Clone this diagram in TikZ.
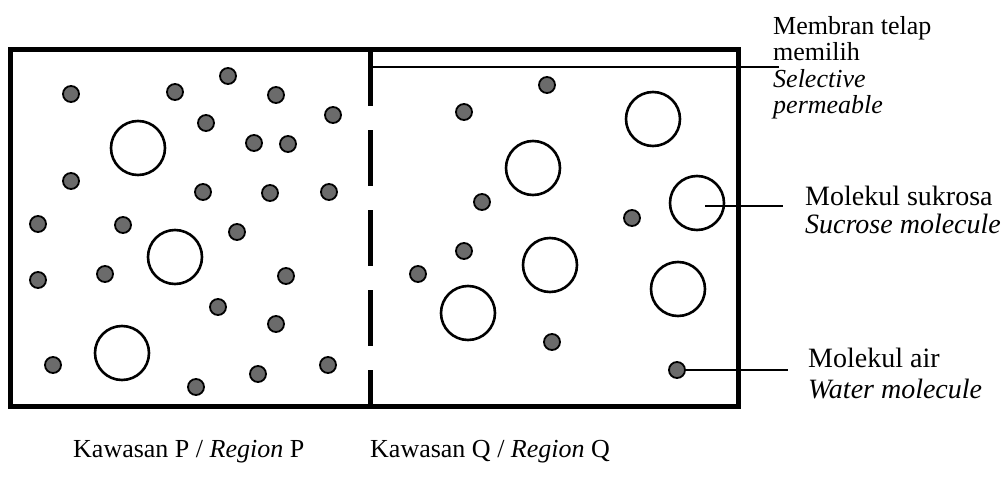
\documentclass[tikz,border=0pt]{standalone}
\usepackage{fontspec}
\setmainfont{Liberation Serif}
\usepackage{tikz}
\usetikzlibrary{positioning}

\tikzset{
  water/.style={circle,draw=black,fill=black!58,line width=1.8pt,minimum size=16pt,inner sep=0pt},
  sucrose/.style={circle,draw=black,fill=white,line width=2.6pt,minimum size=54pt,inner sep=0pt},
  lbl/.style={align=left,inner sep=0pt,anchor=north west},
  pointer/.style={line width=1.3pt},
}

\begin{document}
\begin{tikzpicture}[x=1pt,y=-1pt]

\useasboundingbox (0,0) rectangle (1006,495);

\draw[line width=5pt] (10,50) rectangle (738,406);
\coordinate (memTop) at (370,50);
\coordinate (memBot) at (370,406);
\draw[line width=5pt,dash pattern=on 56pt off 24pt] (memTop) -- (memBot);

\node[water] (p1) at (71,94) {};
\node[water] (p2) at (175,92) {};
\node[water] (p3) at (228,76) {};
\node[water] (p4) at (276,95) {};
\node[water] (p5) at (333,115) {};
\node[water] (p6) at (206,123) {};
\node[water] (p7) at (254,143) {};
\node[water] (p8) at (288,144) {};
\node[water] (p9) at (71,181) {};
\node[water] (p10) at (203,192) {};
\node[water] (p11) at (270,193) {};
\node[water] (p12) at (329,192) {};
\node[water] (p13) at (38,224) {};
\node[water] (p14) at (123,225) {};
\node[water] (p15) at (237,232) {};
\node[water] (p16) at (38,280) {};
\node[water] (p17) at (105,274) {};
\node[water] (p18) at (286,276) {};
\node[water] (p19) at (218,307) {};
\node[water] (p20) at (276,324) {};
\node[water] (p21) at (53,365) {};
\node[water] (p22) at (196,387) {};
\node[water] (p23) at (258,374) {};
\node[water] (p24) at (328,365) {};

\node[sucrose] (ps1) at (138,148) {};
\node[sucrose] (ps2) at (175,257) {};
\node[sucrose] (ps3) at (122,353) {};

\node[water] (q1) at (547,85) {};
\node[water] (q2) at (464,112) {};
\node[water] (q3) at (482,202) {};
\node[water] (q4) at (632,218) {};
\node[water] (q5) at (464,251) {};
\node[water] (q6) at (418,274) {};
\node[water] (q7) at (552,342) {};
\node[water] (q8) at (677,370) {};

\node[sucrose] (qs1) at (653,119) {};
\node[sucrose] (qs2) at (533,168) {};
\node[sucrose] (qs3) at (697,203) {};
\node[sucrose] (qs4) at (550,265) {};
\node[sucrose] (qs5) at (468,313) {};
\node[sucrose] (qs6) at (678,289) {};

\node[lbl,font=\fontsize{26}{26.5}\selectfont] (memLbl) at (773,16) {Membran telap\\memilih\\\textit{Selective}\\\textit{permeable}};
\node[lbl,font=\fontsize{28}{28}\selectfont] (sucLbl) at (805,186) {Molekul sukrosa\\\textit{Sucrose molecule}};
\node[lbl,font=\fontsize{28}{31}\selectfont] (airLbl) at (808,348) {Molekul air\\\textit{Water molecule}};

\coordinate (memPt) at (372,67);
\coordinate (memEnd) at (779,67);
\coordinate (sucPt) at (705,206);
\coordinate (sucEnd) at (783,206);
\coordinate (airEnd) at (788,370);
\draw[pointer] (memPt) -- (memEnd);
\draw[pointer] (sucPt) -- (sucEnd);
\draw[pointer] (q8.east) -- (airEnd);

\node[inner sep=0pt,anchor=base west,font=\fontsize{26}{26}\selectfont] (kawP) at (73,457) {Kawasan P / \textit{Region} P};
\node[inner sep=0pt,anchor=base west,font=\fontsize{26}{26}\selectfont] (kawQ) at (370,457) {Kawasan Q / \textit{Region} Q};

\end{tikzpicture}
\end{document}
